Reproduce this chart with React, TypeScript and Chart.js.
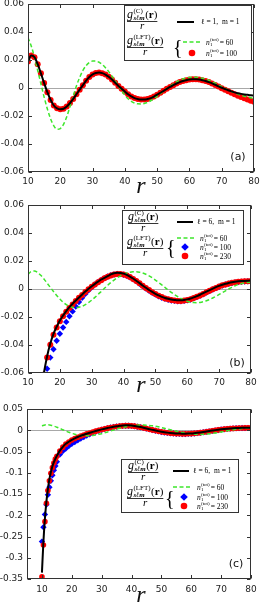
import React, { useEffect, useRef } from "react";
import { Chart, registerables } from "chart.js";
Chart.register(...registerables);

// ---------------- data ----------------
const rGrid = [10, 11, 12, 13, 14, 15, 16, 17, 18, 19, 20, 21, 22, 23, 24, 25, 26, 27, 28, 29, 30, 31, 32, 33, 34, 35, 36, 37, 38, 39, 40, 41, 42, 43, 44, 45, 46, 47, 48, 49, 50, 51, 52, 53, 54, 55, 56, 57, 58, 59, 60, 61, 62, 63, 64, 65, 66, 67, 68, 69, 70, 71, 72, 73, 74, 75, 76, 77, 78, 79, 80];
const rFine = [10, 10.5, 11, 11.5, 12, 12.5, 13, 13.5, 14, 14.5, 15, 16, 17, 18, 19, 20, 21, 22, 23, 24, 25, 26, 27, 28, 29, 30, 31, 32, 33, 34, 35, 36, 37, 38, 39, 40, 41, 42, 43, 44, 45, 46, 47, 48, 49, 50, 51, 52, 53, 54, 55, 56, 57, 58, 59, 60, 61, 62, 63, 64, 65, 66, 67, 68, 69, 70, 71, 72, 73, 74, 75, 76, 77, 78, 79, 80];

// panel (a): l = 1, m = 1 (on rGrid)
const l1Exact = [0.019, 0.0232, 0.022, 0.017, 0.0105, 0.0035, -0.003, -0.0085, -0.0125, -0.0145, -0.0152, -0.0148, -0.0132, -0.0108, -0.0078, -0.0045, -0.0012, 0.002, 0.0052, 0.0078, 0.0097, 0.0107, 0.011, 0.0106, 0.0096, 0.008, 0.006, 0.0038, 0.0015, -0.0005, -0.0025, -0.0045, -0.006, -0.0072, -0.0079, -0.0083, -0.0083, -0.0079, -0.0072, -0.0061, -0.0048, -0.0034, -0.002, -0.0006, 0.0008, 0.002, 0.0032, 0.0042, 0.005, 0.0056, 0.006, 0.0062, 0.0062, 0.006, 0.0056, 0.005, 0.0042, 0.0033, 0.0023, 0.0012, 0.0002, -0.0007, -0.0016, -0.0024, -0.0031, -0.0037, -0.0042, -0.0046, -0.0049, -0.0052, -0.0054];
const l1Lft100 = [0.019, 0.0232, 0.022, 0.017, 0.0105, 0.0035, -0.003, -0.0085, -0.0125, -0.0145, -0.0152, -0.0148, -0.0132, -0.0108, -0.0078, -0.0045, -0.0012, 0.002, 0.0052, 0.0078, 0.0097, 0.0107, 0.011, 0.0106, 0.0096, 0.008, 0.006, 0.0038, 0.0015, -0.0005, -0.0025, -0.0045, -0.006, -0.0072, -0.0079, -0.0083, -0.0083, -0.0079, -0.0072, -0.0061, -0.0048, -0.0034, -0.002, -0.0006, 0.0008, 0.002, 0.0032, 0.0042, 0.005, 0.0056, 0.006, 0.0062, 0.0062, 0.006, 0.0056, 0.005, 0.0042, 0.0033, 0.0022, 0.001, -0.0001, -0.0012, -0.0023, -0.0034, -0.0045, -0.0055, -0.0065, -0.0074, -0.0083, -0.0091, -0.0098];
const l1Lft60 = [0.036, 0.03, 0.022, 0.0125, 0.003, -0.0065, -0.015, -0.022, -0.027, -0.0295, -0.029, -0.026, -0.0205, -0.0135, -0.006, 0.0015, 0.0075, 0.0125, 0.016, 0.0182, 0.0192, 0.0192, 0.0184, 0.0168, 0.0145, 0.0117, 0.0085, 0.005, 0.0015, -0.002, -0.005, -0.0077, -0.0095, -0.0107, -0.0113, -0.0114, -0.0111, -0.0103, -0.0091, -0.0076, -0.0059, -0.004, -0.0022, -0.0004, 0.0013, 0.0029, 0.0043, 0.0055, 0.0064, 0.0071, 0.0075, 0.0077, 0.0077, 0.0075, 0.007, 0.0063, 0.0055, 0.0045, 0.0034, 0.0022, 0.001, -0.0002, -0.0014, -0.0025, -0.0035, -0.0044, -0.0052, -0.0059, -0.0065, -0.007, -0.0075];

// panels (b), (c): l = 6, m = 1 (exact, n=100, n=230 on rFine; n=60 on rGrid)
const l6Exact = [-0.335, -0.262, -0.208, -0.168, -0.138, -0.115, -0.098, -0.085, -0.075, -0.067, -0.06, -0.048, -0.039, -0.032, -0.027, -0.0225, -0.019, -0.0158, -0.013, -0.0105, -0.0082, -0.006, -0.0039, -0.0018, 0.0002, 0.002, 0.0037, 0.0053, 0.0068, 0.008, 0.0092, 0.0104, 0.0112, 0.0116, 0.0115, 0.011, 0.0101, 0.0089, 0.0075, 0.0059, 0.0042, 0.0025, 0.0009, -0.0007, -0.0021, -0.0034, -0.0046, -0.0056, -0.0064, -0.007, -0.0075, -0.0078, -0.008, -0.008, -0.0078, -0.0074, -0.0068, -0.006, -0.0051, -0.0041, -0.003, -0.0019, -0.0008, 0.0003, 0.0013, 0.0022, 0.003, 0.0037, 0.0043, 0.0048, 0.0052, 0.0055, 0.0057, 0.0058, 0.0059, 0.006];
const l6Lft100 = [-0.262, -0.228, -0.198, -0.175, -0.152, -0.134, -0.119, -0.106, -0.094, -0.084, -0.074, -0.057, -0.049, -0.043, -0.037, -0.032, -0.0275, -0.0235, -0.0195, -0.016, -0.0125, -0.0093, -0.0062, -0.0035, -0.001, 0.0012, 0.0032, 0.005, 0.0065, 0.0078, 0.0089, 0.0098, 0.0104, 0.0107, 0.0106, 0.0102, 0.0094, 0.0083, 0.007, 0.0055, 0.0038, 0.0021, 0.0004, -0.0012, -0.0027, -0.004, -0.0052, -0.0062, -0.007, -0.0077, -0.0082, -0.0085, -0.0087, -0.0087, -0.0085, -0.0081, -0.0075, -0.0067, -0.0058, -0.0048, -0.0037, -0.0026, -0.0015, -0.0004, 0.0006, 0.0016, 0.0024, 0.0032, 0.0038, 0.0043, 0.0047, 0.005, 0.0052, 0.0054, 0.0055, 0.0056];
const l6Lft230 = [-0.345, -0.27, -0.215, -0.172, -0.142, -0.119, -0.101, -0.088, -0.077, -0.068, -0.061, -0.049, -0.0398, -0.0327, -0.0275, -0.023, -0.0195, -0.0163, -0.0135, -0.011, -0.0086, -0.0063, -0.0042, -0.0021, -0.0002, 0.0016, 0.0033, 0.0049, 0.0063, 0.0076, 0.0087, 0.0097, 0.0104, 0.0108, 0.0108, 0.0104, 0.0096, 0.0085, 0.0072, 0.0057, 0.0041, 0.0024, 0.0008, -0.0008, -0.0023, -0.0036, -0.0048, -0.0058, -0.0067, -0.0074, -0.0079, -0.0083, -0.0085, -0.0085, -0.0083, -0.0079, -0.0073, -0.0065, -0.0056, -0.0046, -0.0035, -0.0024, -0.0013, -0.0002, 0.0008, 0.0017, 0.0026, 0.0033, 0.0039, 0.0044, 0.0048, 0.0051, 0.0054, 0.0055, 0.0056, 0.0057];
const l6Lft60 = [0.0105, 0.0125, 0.0128, 0.0118, 0.0098, 0.0072, 0.0042, 0.0012, -0.0018, -0.0046, -0.0072, -0.0094, -0.0111, -0.0123, -0.013, -0.0132, -0.013, -0.0123, -0.0112, -0.0097, -0.008, -0.006, -0.0039, -0.0017, 0.0005, 0.0026, 0.0046, 0.0064, 0.008, 0.0094, 0.0105, 0.0114, 0.012, 0.0123, 0.0123, 0.012, 0.0114, 0.0105, 0.0094, 0.008, 0.0064, 0.0047, 0.0029, 0.0011, -0.0007, -0.0024, -0.004, -0.0055, -0.0068, -0.0079, -0.0088, -0.0094, -0.0097, -0.0098, -0.0096, -0.0091, -0.0084, -0.0075, -0.0064, -0.0052, -0.0039, -0.0026, -0.0013, 0.0, 0.0012, 0.0023, 0.0032, 0.0039, 0.0044, 0.0047, 0.0049];

// tick labels
const xTicks = [10, 20, 30, 40, 50, 60, 70, 80];
const yTicksAB = [-0.06, -0.04, -0.02, 0, 0.02, 0.04, 0.06];
const yTicksC = [-0.35, -0.3, -0.25, -0.2, -0.15, -0.1, -0.05, 0, 0.05];
const nLabelsA = ["60", "100"];
const nLabelsBC = ["60", "100", "230"];

// ---------------- styling ----------------
const GREEN = "#3ee62c";
const RED = "#ff0000";
const BLUE = "#0000ff";
const SERIF = '"Liberation Serif", "DejaVu Serif", serif';
const SANS = '"DejaVu Sans", sans-serif';

const pts = (xs: number[], ys: number[]) => xs.map((x, i) => ({ x, y: ys[i] }));
const fmt = (v: number) => Number(v.toFixed(2)).toString();

function blackLine(xs: number[], ys: number[], w: number) {
  return {
    data: pts(xs, ys), borderColor: "#000", borderWidth: w, pointRadius: 0,
    cubicInterpolationMode: "monotone", clip: 0,
  };
}
function greenLine(xs: number[], ys: number[]) {
  return {
    data: pts(xs, ys), borderColor: GREEN, borderWidth: 1.5, borderDash: [4, 2.5], pointRadius: 0,
    cubicInterpolationMode: "monotone", clip: 0,
  };
}
function dots(xs: number[], ys: number[], color: string, style: string, r: number) {
  return {
    data: pts(xs, ys), showLine: false, pointStyle: style, pointRadius: r,
    pointBackgroundColor: color, pointBorderColor: color, pointBorderWidth: 0, clip: 0,
  };
}

type Entry = { kind: "dash" | "circle" | "diamond"; y: number; label: string };
type LegendCfg = {
  box: [number, number, number, number];
  frac1: [number, number];
  frac2: [number, number];
  line: [number, number, number];
  lineText: [number, string];
  brace: [number, number];
  dash: [number, number];
  markX: number;
  textX: number;
  entries: Entry[];
};

function drawNumerator(ctx: CanvasRenderingContext2D, x: number, base: number, sup: string) {
  ctx.textAlign = "left";
  ctx.textBaseline = "alphabetic";
  ctx.font = `italic 12px ${SERIF}`;
  ctx.fillText("g", x, base);
  let xx = x + ctx.measureText("g").width + 0.5;
  ctx.font = `7px ${SERIF}`;
  ctx.fillText(sup, xx, base - 5);
  const ws = ctx.measureText(sup).width;
  ctx.font = `italic bold 7px ${SERIF}`;
  ctx.fillText("sℓm", xx, base + 2.5);
  const wb = ctx.measureText("sℓm").width;
  xx += Math.max(ws, wb) + 0.5;
  ctx.font = `11px ${SERIF}`;
  ctx.fillText("(", xx, base);
  xx += ctx.measureText("(").width;
  ctx.font = `bold 11px ${SERIF}`;
  ctx.fillText("r", xx, base);
  xx += ctx.measureText("r").width;
  ctx.font = `11px ${SERIF}`;
  ctx.fillText(")", xx, base);
  xx += ctx.measureText(")").width;
  return xx - x;
}

function drawFraction(ctx: CanvasRenderingContext2D, x: number, barY: number, sup: string) {
  const w = drawNumerator(ctx, x, barY - 3.5, sup);
  ctx.strokeStyle = "#000";
  ctx.lineWidth = 0.8;
  ctx.beginPath();
  ctx.moveTo(x, barY + 0.5);
  ctx.lineTo(x + w, barY + 0.5);
  ctx.stroke();
  ctx.font = `italic 11px ${SERIF}`;
  ctx.textAlign = "center";
  ctx.fillText("r", x + w / 2, barY + 8);
}

function drawNText(ctx: CanvasRenderingContext2D, x: number, yMid: number, val: string) {
  const base = yMid + 2.5;
  ctx.textAlign = "left";
  ctx.textBaseline = "alphabetic";
  ctx.font = `italic 7.5px ${SERIF}`;
  ctx.fillText("n", x, base);
  let xx = x + ctx.measureText("n").width + 0.3;
  ctx.font = `5px ${SERIF}`;
  ctx.fillText("(tot)", xx, base - 3.5);
  const ws = ctx.measureText("(tot)").width;
  ctx.fillText("1", xx, base + 1.8);
  xx += ws + 1;
  ctx.font = `7.5px ${SERIF}`;
  ctx.fillText("= " + val, xx, base);
}

function drawLegend(ctx: CanvasRenderingContext2D, L: LegendCfg) {
  const [x1, y1, x2, y2] = L.box;
  ctx.save();
  ctx.fillStyle = "#fff";
  ctx.fillRect(x1, y1, x2 - x1, y2 - y1);
  ctx.strokeStyle = "#333";
  ctx.lineWidth = 1;
  ctx.strokeRect(x1 + 0.5, y1 + 0.5, x2 - x1 - 1, y2 - y1 - 1);
  ctx.fillStyle = "#000";
  drawFraction(ctx, L.frac1[0], L.frac1[1], "(C)");
  drawFraction(ctx, L.frac2[0], L.frac2[1], "(LFT)");
  ctx.strokeStyle = "#000";
  ctx.lineWidth = 2;
  ctx.beginPath();
  ctx.moveTo(L.line[0], L.line[2]);
  ctx.lineTo(L.line[1], L.line[2]);
  ctx.stroke();
  ctx.font = `7.5px ${SERIF}`;
  ctx.textAlign = "left";
  ctx.textBaseline = "middle";
  ctx.fillText(L.lineText[1], L.lineText[0], L.line[2] + 0.5);
  ctx.font = `20px ${SERIF}`;
  ctx.textBaseline = "alphabetic";
  ctx.fillText("{", L.brace[0], L.brace[1]);
  for (const e of L.entries) {
    if (e.kind === "dash") {
      ctx.strokeStyle = GREEN;
      ctx.lineWidth = 1.5;
      ctx.setLineDash([4, 2.5]);
      ctx.beginPath();
      ctx.moveTo(L.dash[0], e.y);
      ctx.lineTo(L.dash[1], e.y);
      ctx.stroke();
      ctx.setLineDash([]);
    } else if (e.kind === "circle") {
      ctx.fillStyle = RED;
      ctx.beginPath();
      ctx.arc(L.markX, e.y, 3.3, 0, Math.PI * 2);
      ctx.fill();
    } else {
      ctx.fillStyle = BLUE;
      ctx.beginPath();
      ctx.moveTo(L.markX, e.y - 3.8);
      ctx.lineTo(L.markX + 3.8, e.y);
      ctx.lineTo(L.markX, e.y + 3.8);
      ctx.lineTo(L.markX - 3.8, e.y);
      ctx.closePath();
      ctx.fill();
    }
    ctx.fillStyle = "#000";
    drawNText(ctx, L.textX, e.y, e.label);
  }
  ctx.restore();
}

const framePlugin = {
  id: "frame",
  beforeDatasetsDraw(chart: any) {
    const { ctx, chartArea: a, scales } = chart;
    const y0 = Math.round(scales.y.getPixelForValue(0)) + 0.5;
    ctx.save();
    ctx.strokeStyle = "#a8a8a8";
    ctx.lineWidth = 1;
    ctx.beginPath();
    ctx.moveTo(a.left, y0);
    ctx.lineTo(a.right, y0);
    ctx.stroke();
    ctx.restore();
  },
  afterDraw(chart: any, _a: any, opts: any) {
    const { ctx, chartArea: a, scales } = chart;
    const L = Math.round(a.left) + 0.5, R = Math.round(a.right) - 0.5;
    const T = Math.round(a.top) + 0.5, B = Math.round(a.bottom) - 0.5;
    ctx.save();
    ctx.strokeStyle = "#333";
    ctx.lineWidth = 1;
    const tl = 3.5;
    ctx.beginPath();
    for (const t of scales.x.ticks) {
      const px = Math.round(scales.x.getPixelForValue(t.value)) + 0.5;
      ctx.moveTo(px, B); ctx.lineTo(px, B - tl);
      ctx.moveTo(px, T); ctx.lineTo(px, T + tl);
    }
    for (const t of scales.y.ticks) {
      const py = Math.round(scales.y.getPixelForValue(t.value)) + 0.5;
      ctx.moveTo(L, py); ctx.lineTo(L + tl, py);
      ctx.moveTo(R, py); ctx.lineTo(R - tl, py);
    }
    ctx.stroke();
    ctx.strokeRect(L, T, R - L, B - T);
    ctx.restore();

    drawLegend(ctx, opts.legend);

    ctx.save();
    ctx.fillStyle = "#111";
    ctx.font = `11px ${SANS}`;
    ctx.textAlign = "center";
    ctx.textBaseline = "middle";
    ctx.fillText(opts.tag, opts.tagPos[0], opts.tagPos[1]);
    ctx.font = `italic 24px ${SERIF}`;
    ctx.textBaseline = "alphabetic";
    ctx.fillText("r", opts.rPos[0], opts.rPos[1]);
    ctx.restore();
  },
};

type PanelDef = {
  h: number; top: number; left: number; right: number; bottom: number;
  xMin: number; yMin: number; yMax: number; yTicks: number[];
  datasets: any[]; legend: LegendCfg; tag: string; tagPos: [number, number]; rPos: [number, number];
  labelPad: number;
};

const W = 260;

const panels: PanelDef[] = [
  {
    h: 196, top: 4, left: 28, right: 254, bottom: 172, labelPad: 4,
    xMin: 10, yMin: -0.06, yMax: 0.06, yTicks: yTicksAB,
    datasets: [
      blackLine(rGrid, l1Exact, 2),
      greenLine(rGrid, l1Lft60),
      dots(rGrid, l1Lft100, RED, "circle", 3),
    ],
    legend: {
      box: [124, 5, 252, 61],
      frac1: [127, 21],
      frac2: [127, 47],
      line: [177, 194, 22],
      lineText: [201, "ℓ = 1,  m = 1"],
      brace: [173, 54],
      dash: [183, 201],
      markX: 192,
      textX: 206,
      entries: [
        { kind: "dash", y: 42, label: nLabelsA[0] },
        { kind: "circle", y: 53, label: nLabelsA[1] },
      ],
    },
    tag: "(a)", tagPos: [238, 157], rPos: [141, 193],
  },
  {
    h: 204, top: 9, left: 28, right: 251, bottom: 177, labelPad: 4,
    xMin: 10, yMin: -0.06, yMax: 0.06, yTicks: yTicksAB,
    datasets: [
      blackLine(rFine, l6Exact, 2),
      greenLine(rGrid, l6Lft60),
      dots(rFine, l6Lft230, RED, "circle", 3),
      dots(rFine, l6Lft100, BLUE, "rectRot", 3.2),
    ],
    legend: {
      box: [122, 14, 244, 69],
      frac1: [128, 27],
      frac2: [127, 52],
      line: [177, 193, 26],
      lineText: [197, "ℓ = 6,  m = 1"],
      brace: [166, 58],
      dash: [177, 194],
      markX: 185,
      textX: 200,
      entries: [
        { kind: "dash", y: 42, label: nLabelsBC[0] },
        { kind: "diamond", y: 51, label: nLabelsBC[1] },
        { kind: "circle", y: 60, label: nLabelsBC[2] },
      ],
    },
    tag: "(b)", tagPos: [237, 167], rPos: [141, 196],
  },
  {
    h: 203, top: 9, left: 27, right: 251, bottom: 179, labelPad: 5,
    xMin: 5, yMin: -0.35, yMax: 0.05, yTicks: yTicksC,
    datasets: [
      blackLine(rFine, l6Exact, 2),
      greenLine(rGrid, l6Lft60),
      dots(rFine, l6Lft230, RED, "circle", 2.8),
      dots(rFine, l6Lft100, BLUE, "rectRot", 3.2),
    ],
    legend: {
      box: [121, 59, 239, 113],
      frac1: [128, 72],
      frac2: [127, 98],
      line: [173, 189, 71],
      lineText: [193, "ℓ = 6,  m = 1"],
      brace: [165, 105],
      dash: [173, 190],
      markX: 184,
      textX: 197,
      entries: [
        { kind: "dash", y: 87, label: nLabelsBC[0] },
        { kind: "diamond", y: 97, label: nLabelsBC[1] },
        { kind: "circle", y: 106, label: nLabelsBC[2] },
      ],
    },
    tag: "(c)", tagPos: [236, 164], rPos: [141, 202],
  },
];

function Panel({ p }: { p: PanelDef }) {
  const ref = useRef<HTMLCanvasElement | null>(null);
  useEffect(() => {
    if (!ref.current) return;
    const chart = new Chart(ref.current, {
      type: "line",
      data: { datasets: p.datasets as any },
      plugins: [framePlugin as any],
      options: {
        responsive: false,
        animation: false,
        devicePixelRatio: 1,
        layout: { padding: { top: p.top, right: W - p.right, bottom: 0, left: 0 } },
        plugins: {
          legend: { display: false },
          tooltip: { enabled: false },
          frame: { legend: p.legend, tag: p.tag, tagPos: p.tagPos, rPos: p.rPos },
        } as any,
        scales: {
          x: {
            type: "linear", min: p.xMin, max: 80,
            grid: { display: false, drawTicks: false },
            border: { display: false },
            ticks: { font: { family: "DejaVu Sans", size: 9 }, color: "#222", padding: p.labelPad, maxRotation: 0, autoSkip: false },
            afterBuildTicks: (s: any) => { s.ticks = xTicks.map((v) => ({ value: v })); },
            afterFit: (s: any) => { s.height = p.h - p.bottom; s.paddingLeft = 0; s.paddingRight = 0; },
          },
          y: {
            type: "linear", min: p.yMin, max: p.yMax,
            grid: { display: false, drawTicks: false },
            border: { display: false },
            ticks: { font: { family: "DejaVu Sans", size: 9 }, color: "#222", padding: 4, autoSkip: false, callback: (v: any) => fmt(Number(v)) },
            afterBuildTicks: (s: any) => { s.ticks = p.yTicks.map((v) => ({ value: v })); },
            afterFit: (s: any) => { s.width = p.left; s.paddingTop = 0; s.paddingBottom = 0; },
          },
        },
      } as any,
    });
    return () => chart.destroy();
  }, [p]);
  return <canvas ref={ref} width={W} height={p.h} style={{ display: "block", width: W, height: p.h }} />;
}

export default function App() {
  return (
    <div style={{ position: "absolute", left: 0, top: 0, width: W, background: "#fff" }}>
      {panels.map((p, i) => (
        <Panel key={i} p={p} />
      ))}
    </div>
  );
}
